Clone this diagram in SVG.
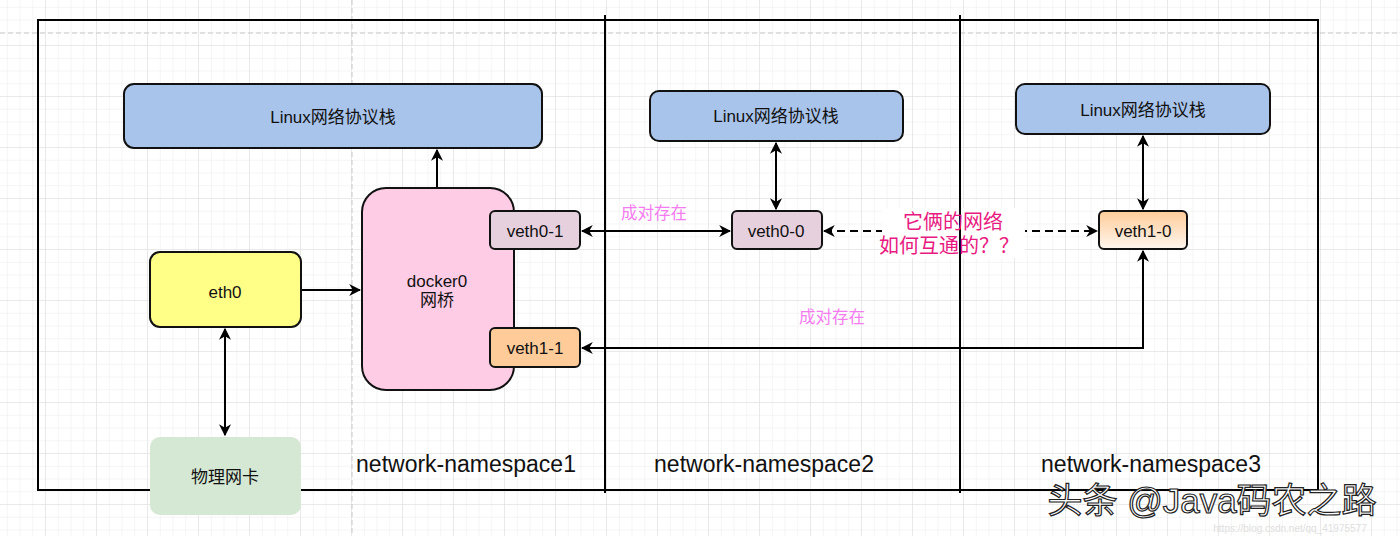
<svg xmlns="http://www.w3.org/2000/svg" width="1400" height="536" viewBox="0 0 1400 536">
<style>
text{font-family:"Liberation Sans","Noto Sans CJK SC",sans-serif;text-anchor:middle;dominant-baseline:central;fill:#111}
.n{stroke:#111;stroke-width:2}
.c{stroke:#000;stroke-width:2;fill:none}
.ns{font-size:23px}
.t{font-size:17px}
.pk{fill:#F57CF0;font-size:16.5px}
.q{font-size:20px;fill:#E8197F}
</style>
<defs>
<pattern id="gmin" width="12.75" height="12.75" patternUnits="userSpaceOnUse" x="-5" y="-5">
<path d="M12.75 0V12.75M0 12.75H12.75" stroke="#ececec" stroke-width="1" fill="none"/>
</pattern>
<pattern id="gmaj" width="51" height="51" patternUnits="userSpaceOnUse" x="-5" y="-5">
<path d="M51 0V51M0 51H51" stroke="#dcdcdc" stroke-width="1" fill="none"/>
</pattern>
<marker id="ae" viewBox="0 0 10 10" refX="9" refY="5" markerWidth="12" markerHeight="12" orient="auto-start-reverse" markerUnits="userSpaceOnUse">
<path d="M0 0L10 5L0 10L3 5Z" fill="#000"/>
</marker>
<linearGradient id="og" x1="0" y1="0" x2="0" y2="1">
<stop offset="0" stop-color="#FFCC99"/>
<stop offset="1" stop-color="#FFF6EE"/>
</linearGradient>
</defs>
<rect width="1400" height="536" fill="#fff"/>
<rect width="1400" height="536" fill="url(#gmin)"/>
<rect width="1400" height="536" fill="url(#gmaj)"/>
<path d="M0 33H1400M352 0V536" stroke="#c8c8c8" stroke-width="1" stroke-dasharray="5 3" fill="none"/>

<g id="frame">
<rect x="38" y="20" width="1280" height="470" fill="none" stroke="#000" stroke-width="2"/>
<path d="M605 15V493M960 15V493" stroke="#000" stroke-width="2"/>
</g>

<g id="connectors">
<path class="c" d="M437 188V150" marker-end="url(#ae)"/>
<path class="c" d="M301 290H360" marker-end="url(#ae)"/>
<path class="c" d="M225 329V435" marker-start="url(#ae)" marker-end="url(#ae)"/>
<path class="c" d="M582 231H730" marker-start="url(#ae)" marker-end="url(#ae)"/>
<path class="c" d="M776 143V209" marker-start="url(#ae)" marker-end="url(#ae)"/>
<path class="c" d="M824 231H1097" stroke-dasharray="8 5" marker-start="url(#ae)" marker-end="url(#ae)"/>
<path class="c" d="M1143 136V209" marker-start="url(#ae)" marker-end="url(#ae)"/>
<path class="c" d="M1143 251V348H582" marker-start="url(#ae)" marker-end="url(#ae)"/>
<text class="pk" x="654" y="213">成对存在</text>
<text class="pk" x="832" y="317">成对存在</text>
<g id="question">
<rect x="882" y="208" width="143" height="50" fill="#fff"/>
<path d="M960 207V259" stroke="#000" stroke-width="2"/>
<text class="q" x="953" y="222">它俩的网络</text>
<text class="q" x="949" y="246">如何互通的？？</text>
</g>
</g>

<g id="linux1"><rect class="n" x="124" y="84" width="418" height="64" rx="10" fill="#A9C4EB"/><text class="t" x="333" y="117">Linux网络协议栈</text></g>
<g id="linux2"><rect class="n" x="650" y="91" width="253" height="50" rx="9" fill="#A9C4EB"/><text class="t" x="776" y="116">Linux网络协议栈</text></g>
<g id="linux3"><rect class="n" x="1016" y="84" width="254" height="50" rx="9" fill="#A9C4EB"/><text class="t" x="1143" y="110">Linux网络协议栈</text></g>
<g id="docker0"><rect class="n" x="362" y="188" width="152" height="202" rx="24" fill="#FFCCE6"/><text class="t" x="437" y="281">docker0</text><text class="t" x="437" y="300">网桥</text></g>
<g id="veth0-1"><rect class="n" x="490" y="211" width="90" height="38" rx="5" fill="#E6D0DE"/><text class="t" x="535" y="231">veth0-1</text></g>
<g id="veth1-1"><rect class="n" x="490" y="328" width="90" height="39" rx="5" fill="#FFCC99"/><text class="t" x="535" y="348">veth1-1</text></g>
<g id="eth0"><rect class="n" x="150" y="252" width="151" height="75" rx="10" fill="#FFFF88"/><text class="t" x="225" y="292">eth0</text></g>
<g id="nic"><rect x="150" y="437" width="151" height="78" rx="10" fill="#D5E8D4"/><text class="t" x="225" y="477">物理网卡</text></g>
<g id="veth0-0"><rect class="n" x="732" y="211" width="90" height="38" rx="5" fill="#E6D0DE"/><text class="t" x="776" y="231">veth0-0</text></g>
<g id="veth1-0"><rect class="n" x="1099" y="211" width="88" height="38" rx="5" fill="url(#og)"/><text class="t" x="1143" y="231">veth1-0</text></g>

<g id="labels">
<text class="ns" x="466" y="464">network-namespace1</text>
<text class="ns" x="764" y="464">network-namespace2</text>
<text class="ns" x="1151" y="464">network-namespace3</text>
</g>

<g id="watermark">
<text x="1212" y="500" style="font-size:35px;fill:#fff;stroke:#222;stroke-width:1.2">头条 @Java码农之路</text>
<text x="1290" y="528" style="font-size:10px;fill:#e0e0e0">https://blog.csdn.net/qq_41975577</text>
</g>
</svg>
